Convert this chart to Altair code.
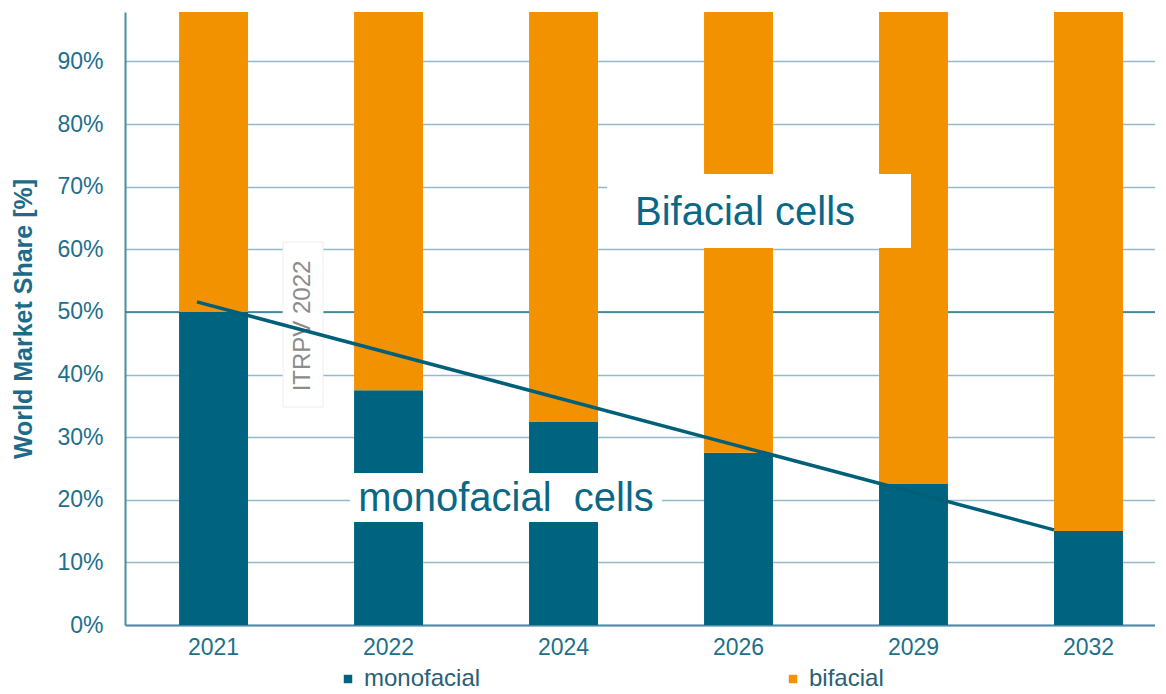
import altair as alt
import pandas as pd

# ---- data ----
years = ["2021", "2022", "2024", "2026", "2029", "2032"]
monofacial = [50, 37.5, 32.5, 27.5, 22.5, 15]
bifacial = [50, 62.5, 67.5, 72.5, 77.5, 85]
series = ["monofacial", "bifacial"]
series_colors = ["#006480", "#F39200"]
y_ticks = [0, 10, 20, 30, 40, 50, 60, 70, 80, 90]
trend_years = ["2021", "2032"]
trend_values = [51.6, 15.2]
highlight_level = [50]

FONT = "Liberation Sans"
TEAL_TXT = "#216f8b"

rows = []
for i, y in enumerate(years):
    rows.append({"year": y, "series": "monofacial", "value": monofacial[i], "order": 0})
    rows.append({"year": y, "series": "bifacial", "value": bifacial[i], "order": 1})
bars_df = pd.DataFrame(rows)

trend_df = pd.DataFrame({
    "x0": [trend_years[0]], "x1": [trend_years[1]],
    "y0": [trend_values[0]], "y1": [trend_values[1]],
})
level_df = pd.DataFrame({"level": highlight_level})

x_scale = alt.Scale(domain=years, paddingInner=0.606, paddingOuter=0.246, align=0.628)
y_scale = alt.Scale(domain=[0, 97.9], nice=False, zero=True)

x_enc = alt.X(
    "year:N", scale=x_scale, sort=years, title=None,
    axis=alt.Axis(labelAngle=0, labelFontSize=23, labelColor=TEAL_TXT, labelFont=FONT,
                  ticks=False, domainColor="#4a8ca5", domainWidth=2, labelPadding=11, grid=False),
)
y_enc = alt.Y(
    "value:Q", stack="zero", scale=y_scale, title="World Market Share [%]",
    axis=alt.Axis(values=y_ticks, labelExpr="datum.value + '%'", labelFontSize=23,
                  labelColor=TEAL_TXT, labelFont=FONT, labelPadding=22, ticks=False,
                  domainColor="#4a8ca5", domainWidth=2, grid=True, gridColor="#93bccb",
                  gridWidth=1.5, titleFont=FONT, titleFontSize=25, titleFontWeight="bold",
                  titleColor="#1d6b88", titlePadding=20),
)

level = alt.Chart(level_df).mark_rule(color="#2b7893", strokeWidth=1.5).encode(
    y=alt.Y("level:Q", scale=y_scale)
)

bars = alt.Chart(bars_df).mark_bar(clip=True).encode(
    x=x_enc,
    y=y_enc,
    color=alt.Color(
        "series:N",
        scale=alt.Scale(domain=series, range=series_colors),
        sort=series,
        legend=alt.Legend(
            title=None, orient="none", legendX=211, legendY=655, direction="horizontal",
            symbolType="square", symbolSize=72, symbolStrokeWidth=0, labelFontSize=24,
            labelFont=FONT, labelColor="#2a5f74", columnPadding=300, labelLimit=300,
            padding=0, labelOffset=4,
        ),
    ),
    order=alt.Order("order:Q", sort="ascending"),
)

# white annotation boxes (pixel positions inside the plot area)
box_df = pd.DataFrame({
    "x": [482, 158, 225], "x2": [786, 198, 537],
    "y": [162, 230, 461], "y2": [236, 395, 510],
})
boxes = alt.Chart(box_df).mark_rect(color="white").encode(
    x=alt.X("x:Q", scale=None), x2="x2:Q",
    y=alt.Y("y:Q", scale=None), y2="y2:Q",
)
itrpv_border = alt.Chart(box_df.iloc[[1]]).mark_rect(fill="white", stroke="#eeeeee", strokeWidth=1).encode(
    x=alt.X("x:Q", scale=None), x2="x2:Q",
    y=alt.Y("y:Q", scale=None), y2="y2:Q",
)

trend = alt.Chart(trend_df).mark_rule(color="#005f79", strokeWidth=3.5).encode(
    x=alt.X("x0:N", scale=x_scale, sort=years, bandPosition=0.26),
    x2=alt.X2("x1:N", bandPosition=0.0),
    y=alt.Y("y0:Q", scale=y_scale),
    y2="y1:Q",
)

bif_text = alt.Chart(pd.DataFrame({"t": ["Bifacial cells"]})).mark_text(
    font=FONT, fontSize=40, color="#0a6887", align="center", baseline="alphabetic"
).encode(text="t:N", x=alt.value(620), y=alt.value(213))

mono_text = alt.Chart(pd.DataFrame({"t": ["monofacial\u00a0 cells"]})).mark_text(
    font=FONT, fontSize=40, color="#0a6887", align="center", baseline="alphabetic"
).encode(text="t:N", x=alt.value(381), y=alt.value(499))

itrpv_text = alt.Chart(pd.DataFrame({"t": ["ITRPV 2022"]})).mark_text(
    font=FONT, fontSize=24, color="#8c8c8c", align="center", baseline="middle", angle=270
).encode(text="t:N", x=alt.value(178), y=alt.value(314))

chart = alt.layer(
    level, bars, boxes, itrpv_border, itrpv_text, trend, bif_text, mono_text
).properties(
    width=1030, height=613,
    padding={"left": 117, "top": 4, "right": 0, "bottom": 68},
    autosize=alt.AutoSizeParams(type="none"),
).configure_view(stroke=None)

chart.save("out.html", embed_options={"renderer": "svg", "actions": False})
